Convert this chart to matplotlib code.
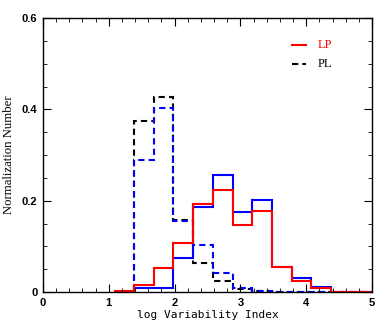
import numpy as np
import matplotlib
matplotlib.use('Agg')
import matplotlib.pyplot as plt
from matplotlib.ticker import MultipleLocator, FuncFormatter

# bin edges (log Variability Index)
edges = [1.08, 1.38, 1.68, 1.98, 2.28, 2.58, 2.88, 3.18, 3.48, 3.78, 4.08, 4.38, 5.0]

# LP sources
lp_red  = [0.003, 0.015, 0.053, 0.107, 0.192, 0.223, 0.147, 0.177, 0.054, 0.023, 0.009, 0.0]
lp_blue = [0.0, 0.009, 0.009, 0.074, 0.187, 0.256, 0.175, 0.201, 0.055, 0.030, 0.012, 0.0]
# PL sources
pl_black = [0.0, 0.375, 0.428, 0.157, 0.064, 0.024, 0.006, 0.002, 0.0, 0.0, 0.0, 0.0]
pl_blue  = [0.0, 0.289, 0.402, 0.155, 0.104, 0.041, 0.008, 0.003, 0.0, 0.0, 0.0, 0.0]

fig = plt.figure(figsize=(3.92, 3.27), dpi=100)
ax = fig.add_axes([43/392, 1 - 292/327, 329/392, 274/327])

def step(vals, **kw):
    ax.stairs(vals, edges, baseline=None, **kw)

step(pl_black, color='black', lw=1.5, ls=(0, (3, 2)))
step(pl_blue, color='blue', lw=1.5, ls=(0, (3, 2)))
step(lp_blue, color='blue', lw=1.5)
step(lp_red, color='red', lw=1.5)

ax.set_xlim(0, 5)
ax.set_ylim(0, 0.6)
ax.xaxis.set_major_locator(MultipleLocator(1))
ax.xaxis.set_minor_locator(MultipleLocator(0.2))
ax.yaxis.set_major_locator(MultipleLocator(0.2))
ax.yaxis.set_minor_locator(MultipleLocator(0.05))
ax.yaxis.set_major_formatter(FuncFormatter(lambda v, p: '0' if abs(v) < 1e-9 else f'{v:.1f}'))
ax.tick_params(which='both', direction='in', top=True, right=True,
               labelsize=8, pad=4)
ax.tick_params(which='major', length=6)
ax.tick_params(which='minor', length=3)
for lab in ax.get_xticklabels() + ax.get_yticklabels():
    lab.set_fontweight('bold')
    lab.set_family('Liberation Sans')

ax.set_xlabel('log Variability Index', family='DejaVu Sans Mono', fontsize=8, labelpad=2)
ax.set_ylabel('Normalization Number', family='Liberation Serif', fontsize=9.2, labelpad=5)

# legend drawn by hand
ax.plot([3.78, 4.0], [0.541, 0.541], color='red', lw=1.5)
ax.text(4.18, 0.541, 'LP', color='red', family='Liberation Serif', fontsize=9, va='center')
ax.plot([3.78, 4.0], [0.50, 0.50], color='black', lw=1.5, ls=(0, (3, 2)))
ax.text(4.18, 0.50, 'PL', color='black', family='Liberation Serif', fontsize=9, va='center')

for s in ax.spines.values():
    s.set_linewidth(1.0)

fig.savefig('out.png', dpi=100)
